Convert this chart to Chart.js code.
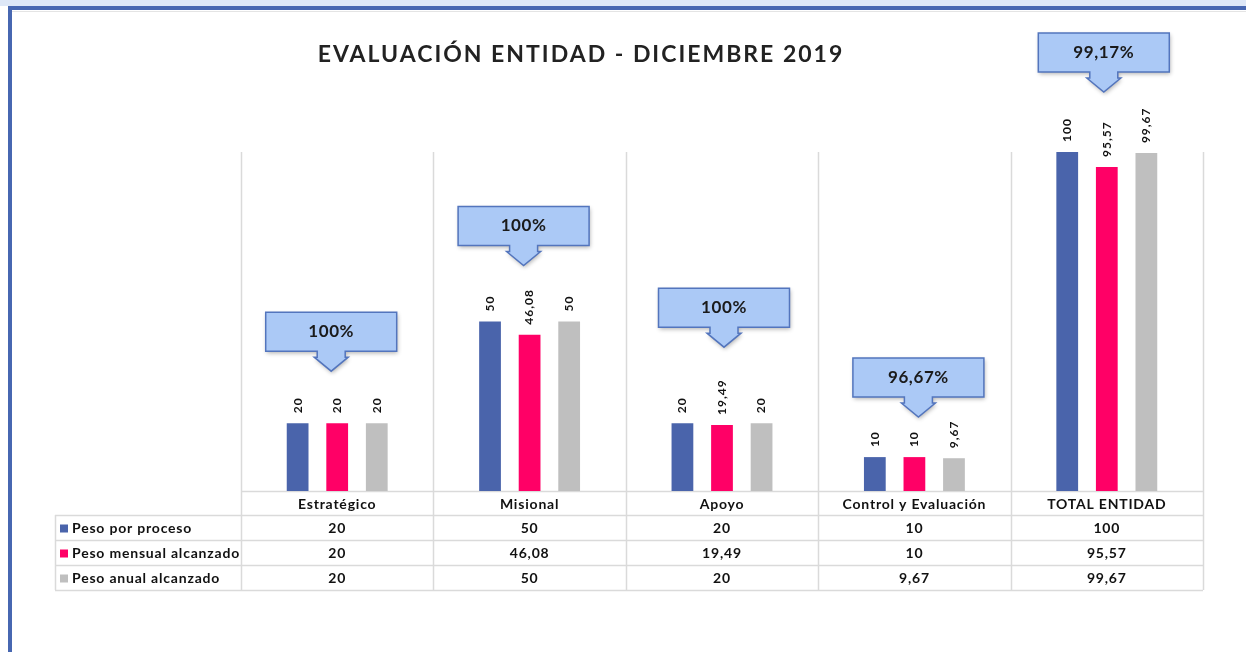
<!DOCTYPE html>
<html>
<head>
<meta charset="utf-8">
<title>Evaluación Entidad - Diciembre 2019</title>
<script src="https://cdn.jsdelivr.net/npm/chart.js@4.4.1/dist/chart.umd.min.js"></script>
<style>
  html, body { margin: 0; padding: 0; background: #fff; }
  body { width: 1246px; height: 652px; position: relative; overflow: hidden; }
  #strip { position: absolute; left: 0; top: 0; width: 1246px; height: 6px; background: #dde7f7; }
  #frame { position: absolute; left: 8px; top: 6px; width: 1238px; height: 646px;
           border-left: 4px solid #4767b1; border-top: 4px solid #4767b1; box-sizing: border-box; }
  #frame::after { content: ''; position: absolute; left: 0; right: 0; top: 1px; height: 1px; background: #e4e4e4; }
  #grafico { position: absolute; left: 0; top: 0; }
</style>
</head>
<body>
<div id="strip"></div>
<div id="frame"></div>
<canvas id="grafico" width="1246" height="652"></canvas>
<script>
// datos del informe
const categories = ['Estratégico', 'Misional', 'Apoyo', 'Control y Evaluación', 'TOTAL ENTIDAD'];
const seriesNames = ['Peso por proceso', 'Peso mensual alcanzado', 'Peso anual alcanzado'];
const pesoProceso = [20, 50, 20, 10, 100];
const pesoMensual = [20, 46.08, 19.49, 10, 95.57];
const pesoAnual = [20, 50, 20, 9.67, 99.67];
const cumplimiento = [100, 100, 100, 96.67, 99.17];

const colores = ['#4a64ab', '#ff0066', '#bfbfbf'];
const FONT = 'Lato, "Open Sans", sans-serif';

const fmt = v => String(v).replace('.', ',');

// cuadrícula y tabla de datos bajo el gráfico
const tablaPlugin = {
  id: 'tabla',
  beforeDatasetsDraw(chart) {
    const { ctx, chartArea: a, scales: { x } } = chart;
    const half = (x.getPixelForValue(1) - x.getPixelForValue(0)) / 2;
    const headH = 24, rowH = 25, labelLeft = 55;
    const bottom = a.bottom + headH + rowH * 3;

    ctx.save();
    ctx.strokeStyle = '#dadada';
    ctx.lineWidth = 1.5;
    ctx.beginPath();
    // verticales entre categorías
    for (let i = 0; i <= categories.length; i++) {
      const px = Math.round(x.getPixelForValue(0) - half + i * half * 2) + 0.5;
      ctx.moveTo(px, a.top);
      ctx.lineTo(px, bottom);
    }
    ctx.moveTo(labelLeft + 0.5, a.bottom + headH);
    ctx.lineTo(labelLeft + 0.5, bottom);
    // horizontales
    ctx.moveTo(a.left, a.bottom + 0.5);
    ctx.lineTo(a.right, a.bottom + 0.5);
    for (let r = 0; r <= 3; r++) {
      const py = a.bottom + headH + r * rowH + 0.5;
      ctx.moveTo(labelLeft, py);
      ctx.lineTo(a.right, py);
    }
    ctx.stroke();

    ctx.fillStyle = '#111';
    ctx.textBaseline = 'middle';
    ctx.textAlign = 'center';
    ctx.font = 'bold 14px ' + FONT;
    ctx.letterSpacing = '0.8px';
    categories.forEach((c, i) => {
      ctx.fillText(c, x.getPixelForValue(i), a.bottom + headH / 2 + 1);
    });

    chart.data.datasets.forEach((ds, r) => {
      const cy = a.bottom + headH + r * rowH + rowH / 2 + 1;
      ctx.textAlign = 'left';
      ctx.fillStyle = ds.backgroundColor;
      ctx.fillRect(labelLeft + 5, cy - 4, 8, 8);
      ctx.fillStyle = '#111';
      ctx.fillText(ds.label, labelLeft + 17, cy);
      ctx.textAlign = 'center';
      ds.data.forEach((v, i) => ctx.fillText(fmt(v), x.getPixelForValue(i), cy));
    });
    ctx.restore();
  },

  afterDatasetsDraw(chart) {
    const { ctx, scales: { x, y } } = chart;

    // etiquetas de valor verticales
    ctx.save();
    ctx.fillStyle = '#111';
    ctx.font = 'bold 12px ' + FONT;
    ctx.letterSpacing = '1px';
    ctx.textAlign = 'left';
    ctx.textBaseline = 'middle';
    chart.data.datasets.forEach((ds, d) => {
      chart.getDatasetMeta(d).data.forEach((bar, i) => {
        ctx.save();
        ctx.translate(bar.x, bar.y - 10);
        ctx.rotate(-Math.PI / 2);
        ctx.fillText(fmt(ds.data[i]), 0, 0);
        ctx.restore();
      });
    });
    ctx.restore();

    // llamadas con el porcentaje de cumplimiento
    const ajuste = [[-6, 52], [-6, 56], [2, 76], [4, 40], [-3, 60]];
    const w = 131, h = 39, stemW = 14, headW = 17, stemH = 6, headH = 14;
    cumplimiento.forEach((p, i) => {
      const maxV = Math.max(pesoProceso[i], pesoMensual[i], pesoAnual[i]);
      const cx = x.getPixelForValue(i) + ajuste[i][0];
      const tip = y.getPixelForValue(maxV) - ajuste[i][1];
      const bot = tip - headH - stemH;
      const top = bot - h;
      ctx.save();
      ctx.beginPath();
      ctx.moveTo(cx - w / 2, top);
      ctx.lineTo(cx + w / 2, top);
      ctx.lineTo(cx + w / 2, bot);
      ctx.lineTo(cx + stemW, bot);
      ctx.lineTo(cx + stemW, bot + stemH);
      ctx.lineTo(cx + headW, bot + stemH);
      ctx.lineTo(cx, tip);
      ctx.lineTo(cx - headW, bot + stemH);
      ctx.lineTo(cx - stemW, bot + stemH);
      ctx.lineTo(cx - stemW, bot);
      ctx.lineTo(cx - w / 2, bot);
      ctx.closePath();
      ctx.shadowColor = 'rgba(0,0,0,0.3)';
      ctx.shadowBlur = 4;
      ctx.shadowOffsetX = 1;
      ctx.shadowOffsetY = 2;
      ctx.fillStyle = '#abc9f6';
      ctx.fill();
      ctx.shadowColor = 'transparent';
      ctx.strokeStyle = '#5375bd';
      ctx.lineWidth = 1.5;
      ctx.stroke();
      ctx.fillStyle = '#1a1a1a';
      ctx.font = 'bold 17px ' + FONT;
      ctx.letterSpacing = '0.6px';
      ctx.textAlign = 'center';
      ctx.textBaseline = 'middle';
      ctx.fillText(fmt(p) + '%', cx, top + h / 2);
      ctx.restore();
    });
  },

  afterDraw(chart) {
    const ctx = chart.ctx;
    ctx.save();
    ctx.fillStyle = '#222';
    ctx.font = 'bold 23px ' + FONT;
    ctx.letterSpacing = '2px';
    ctx.textAlign = 'center';
    ctx.textBaseline = 'middle';
    ctx.fillText('EVALUACIÓN ENTIDAD - DICIEMBRE 2019', 581, 55);
    ctx.restore();
  }
};

new Chart(document.getElementById('grafico'), {
  type: 'bar',
  data: {
    labels: categories,
    datasets: [
      { label: seriesNames[0], data: pesoProceso, backgroundColor: colores[0] },
      { label: seriesNames[1], data: pesoMensual, backgroundColor: colores[1] },
      { label: seriesNames[2], data: pesoAnual, backgroundColor: colores[2] }
    ]
  },
  options: {
    responsive: false,
    animation: false,
    datasets: { bar: { categoryPercentage: 0.617, barPercentage: 0.55 } },
    layout: { padding: { left: 241, right: 43, top: 152, bottom: 161 } },
    plugins: { legend: { display: false }, tooltip: { enabled: false } },
    scales: {
      x: { display: false },
      y: { display: false, min: 0, max: 100 }
    }
  },
  plugins: [tablaPlugin]
});
</script>
</body>
</html>
